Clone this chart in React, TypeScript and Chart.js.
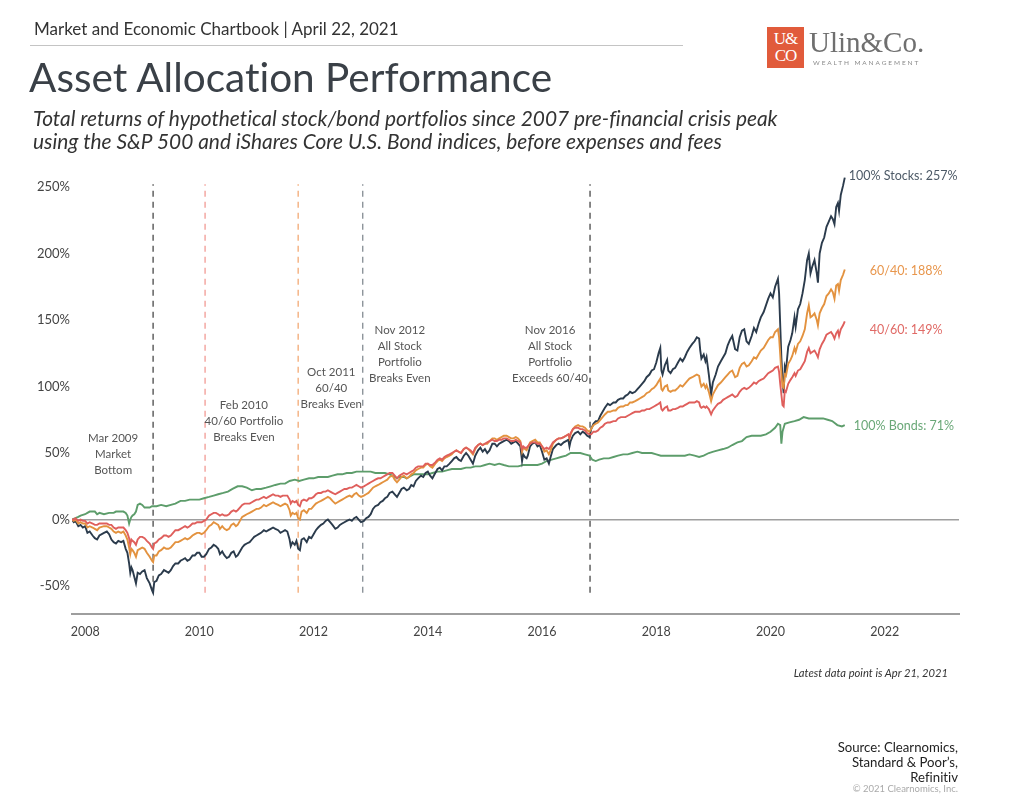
import React, { useEffect, useRef } from "react";
import { Chart, registerables } from "chart.js";

Chart.register(...registerables);

// ---------- DATA ----------
const dates = [
  2007.77, 2007.8, 2007.83, 2007.88, 2007.92, 2007.96,
  2008.0, 2008.04, 2008.08, 2008.13, 2008.17, 2008.21, 2008.25, 2008.33, 2008.38, 2008.42, 2008.46, 2008.5, 2008.54, 2008.58, 2008.63, 2008.67, 2008.71, 2008.74, 2008.77, 2008.79, 2008.81, 2008.83, 2008.86, 2008.89, 2008.92, 2008.96,
  2009.0, 2009.04, 2009.08, 2009.13, 2009.17, 2009.19, 2009.21, 2009.25, 2009.29, 2009.33, 2009.38, 2009.42, 2009.46, 2009.5, 2009.54, 2009.58, 2009.63, 2009.67, 2009.71, 2009.75, 2009.79, 2009.83, 2009.88, 2009.92, 2009.96,
  2010.0, 2010.04, 2010.08, 2010.12, 2010.17, 2010.21, 2010.25, 2010.29, 2010.33, 2010.36, 2010.4, 2010.44, 2010.48, 2010.52, 2010.56, 2010.6, 2010.64, 2010.67, 2010.71, 2010.75, 2010.79, 2010.83, 2010.88, 2010.92, 2010.96,
  2011.0, 2011.04, 2011.08, 2011.13, 2011.17, 2011.21, 2011.25, 2011.29, 2011.33, 2011.38, 2011.42, 2011.46, 2011.5, 2011.54, 2011.58, 2011.6, 2011.63, 2011.67, 2011.7, 2011.73, 2011.76, 2011.79, 2011.83, 2011.88, 2011.92, 2011.96,
  2012.0, 2012.04, 2012.08, 2012.13, 2012.17, 2012.21, 2012.25, 2012.29, 2012.33, 2012.38, 2012.42, 2012.46, 2012.5, 2012.54, 2012.58, 2012.63, 2012.67, 2012.71, 2012.75, 2012.79, 2012.83, 2012.88, 2012.92, 2012.96,
  2013.0, 2013.04, 2013.08, 2013.13, 2013.17, 2013.21, 2013.25, 2013.29, 2013.33, 2013.38, 2013.42, 2013.46, 2013.5, 2013.54, 2013.58, 2013.63, 2013.67, 2013.71, 2013.75, 2013.79, 2013.83, 2013.88, 2013.92, 2013.96,
  2014.0, 2014.04, 2014.08, 2014.13, 2014.17, 2014.21, 2014.25, 2014.29, 2014.33, 2014.38, 2014.42, 2014.46, 2014.5, 2014.54, 2014.58, 2014.63, 2014.67, 2014.71, 2014.75, 2014.79, 2014.83, 2014.88, 2014.92, 2014.96,
  2015.0, 2015.04, 2015.08, 2015.13, 2015.17, 2015.21, 2015.25, 2015.29, 2015.33, 2015.38, 2015.42, 2015.46, 2015.5, 2015.54, 2015.58, 2015.62, 2015.65, 2015.67, 2015.7, 2015.73, 2015.75, 2015.79, 2015.83, 2015.88, 2015.92, 2015.96,
  2016.0, 2016.04, 2016.08, 2016.12, 2016.15, 2016.19, 2016.25, 2016.29, 2016.33, 2016.38, 2016.42, 2016.46, 2016.48, 2016.5, 2016.54, 2016.58, 2016.63, 2016.67, 2016.71, 2016.75, 2016.79, 2016.83, 2016.86, 2016.9, 2016.94, 2016.98,
  2017.02, 2017.06, 2017.1, 2017.15, 2017.19, 2017.25, 2017.29, 2017.33, 2017.38, 2017.42, 2017.46, 2017.5, 2017.54, 2017.58, 2017.63, 2017.67, 2017.71, 2017.75, 2017.79, 2017.83, 2017.88, 2017.92, 2017.96,
  2018.0, 2018.04, 2018.07, 2018.09, 2018.11, 2018.15, 2018.19, 2018.21, 2018.25, 2018.29, 2018.33, 2018.38, 2018.42, 2018.46, 2018.5, 2018.54, 2018.58, 2018.63, 2018.67, 2018.71, 2018.75, 2018.77, 2018.79, 2018.83, 2018.86, 2018.88, 2018.92, 2018.96, 2018.99,
  2019.04, 2019.08, 2019.13, 2019.17, 2019.21, 2019.25, 2019.29, 2019.33, 2019.38, 2019.42, 2019.46, 2019.5, 2019.54, 2019.58, 2019.62, 2019.67, 2019.71, 2019.75, 2019.79, 2019.83, 2019.88, 2019.92, 2019.96,
  2020.0, 2020.04, 2020.08, 2020.13, 2020.15, 2020.17, 2020.19, 2020.21, 2020.23, 2020.25, 2020.27, 2020.31, 2020.35, 2020.38, 2020.42, 2020.44, 2020.48, 2020.52, 2020.56, 2020.6, 2020.64, 2020.67, 2020.7, 2020.73, 2020.77, 2020.81, 2020.83, 2020.86, 2020.9, 2020.94, 2020.98,
  2021.02, 2021.06, 2021.09, 2021.12, 2021.15, 2021.18, 2021.2, 2021.23, 2021.27, 2021.3,
];

const stocks = [
  0, -2, -1, -5, -4, -6,
  -5, -10, -9, -12, -14, -15, -12, -10, -9, -11, -15, -17, -18, -16, -17, -16, -22, -25, -33, -40, -36, -38, -43, -48, -40, -41,
  -39, -38, -44, -48, -53, -55, -47, -46, -42, -41, -38, -39, -40, -38, -35, -33, -33, -31, -30, -29, -31, -30, -27, -27, -25,
  -25, -28, -28, -26, -22, -21, -19, -20, -22, -26, -24, -27, -29, -28, -25, -24, -28, -27, -24, -21, -19, -18, -17, -15, -13,
  -12, -11, -10, -8, -9, -8, -7, -6, -7, -8, -10, -9, -8, -9, -15, -20, -17, -19, -16, -22, -23, -15, -14, -17, -13, -14,
  -11, -8, -6, -4, -3, -1, 0, -2, -4, -7, -6, -4, -3, -2, -1, 0, -1, 1, 2, 0, -2, -1, 1, 2,
  4, 8, 10, 11, 13, 14, 16, 17, 20, 21, 19, 17, 20, 23, 24, 22, 23, 26, 25, 29, 31, 33, 32, 35,
  36, 33, 31, 35, 38, 39, 37, 40, 40, 42, 44, 46, 47, 45, 44, 48, 50, 48, 45, 42, 48, 52, 54, 51,
  53, 50, 52, 57, 57, 55, 57, 58, 59, 60, 59, 57, 58, 59, 57, 55, 44, 49, 47, 46, 48, 55, 57, 58, 55, 56,
  51, 45, 46, 42, 47, 53, 56, 57, 56, 58, 59, 60, 55, 59, 63, 65, 66, 64, 66, 65, 63, 62, 68, 72, 74, 74,
  78, 81, 84, 87, 86, 88, 88, 90, 91, 91, 93, 94, 96, 95, 96, 98, 100, 102, 104, 107, 109, 112, 113,
  118, 125, 129, 112, 109, 116, 120, 112, 110, 113, 114, 118, 121, 119, 122, 126, 129, 132, 134, 137, 136, 127, 121, 124, 119, 122, 109, 94, 103,
  109, 115, 119, 122, 125, 131, 135, 138, 128, 127, 137, 142, 143, 134, 132, 138, 144, 141, 147, 152, 156, 161, 166,
  170, 167, 175, 181, 170, 146, 122, 105, 95, 115, 112, 130, 135, 140, 152, 145, 158, 162, 170, 180, 195, 200, 185, 190, 195, 185, 178, 200, 208, 212, 220,
  224, 228, 226, 222, 235, 238, 232, 244, 251, 257,
];

const sixtyForty = [
  0, -1, 0, -3, -2, -3,
  -3, -6, -5, -6, -7, -8, -6, -5, -5, -6, -7, -9, -10, -9, -10, -9, -12, -15, -21, -26, -22, -23, -25, -28, -23, -22,
  -21, -22, -25, -28, -31, -32, -27, -27, -24, -23, -21, -22, -22, -21, -19, -17, -17, -16, -15, -14, -15, -14, -12, -11, -10,
  -10, -11, -10, -8, -5, -4, -2, -3, -4, -7, -5, -7, -8, -7, -4, -3, -5, -4, -1, 2, 3, 4, 5, 6, 7,
  8, 8, 9, 11, 10, 11, 12, 13, 12, 11, 10, 11, 12, 11, 7, 3, 5, 4, 5, 1, 0, 6, 7, 5, 8, 8,
  10, 12, 13, 14, 15, 16, 17, 16, 14, 12, 13, 14, 15, 16, 17, 18, 17, 19, 20, 18, 17, 18, 19, 20,
  22, 24, 25, 26, 27, 28, 29, 30, 32, 33, 30, 28, 30, 32, 33, 31, 32, 34, 35, 37, 38, 39, 39, 41,
  42, 40, 39, 42, 44, 45, 44, 46, 47, 48, 49, 51, 52, 51, 50, 53, 54, 53, 51, 49, 53, 56, 57, 56,
  57, 57, 59, 61, 61, 60, 61, 62, 63, 63, 62, 61, 61, 62, 61, 59, 51, 54, 53, 52, 54, 58, 59, 60, 58, 58,
  55, 51, 52, 49, 52, 57, 60, 61, 61, 62, 63, 64, 61, 64, 68, 70, 71, 70, 70, 69, 67, 66, 68, 71, 72, 73,
  75, 77, 79, 81, 81, 82, 82, 84, 85, 85, 86, 86, 88, 88, 89, 90, 91, 92, 93, 95, 96, 98, 99,
  101, 104, 106, 98, 97, 100, 101, 97, 96, 97, 97, 99, 101, 100, 102, 104, 106, 107, 108, 109, 108, 103, 100, 102, 99, 101, 96, 89, 94,
  98, 101, 103, 105, 107, 109, 111, 112, 107, 108, 114, 117, 118, 115, 116, 119, 122, 121, 124, 127, 129, 132, 135,
  137, 137, 141, 143, 137, 124, 110, 100, 99, 109, 108, 117, 120, 123, 129, 126, 132, 134, 138, 143, 155, 161, 152, 153, 155, 150, 146, 155, 159, 162, 168,
  170, 173, 171, 166, 176, 177, 172, 180, 184, 188,
];

const fortySixty = [
  0, 0, 1, -1, 0, -1,
  -1, -3, -2, -3, -4, -4, -3, -3, -3, -4, -4, -6, -7, -6, -6, -6, -8, -10, -14, -19, -15, -16, -17, -19, -15, -13,
  -13, -14, -16, -18, -21, -22, -18, -17, -15, -14, -12, -12, -13, -12, -10, -8, -8, -7, -6, -5, -6, -5, -3, -3, -2,
  -2, -2, -1, 0, 3, 4, 5, 5, 4, 3, 4, 3, 3, 4, 6, 7, 6, 7, 9, 11, 12, 12, 12, 13, 14,
  15, 15, 16, 17, 16, 17, 18, 19, 18, 18, 17, 18, 18, 18, 15, 12, 14, 13, 14, 11, 10, 14, 15, 14, 16, 16,
  17, 19, 20, 20, 21, 21, 22, 21, 20, 19, 20, 21, 22, 23, 23, 24, 24, 25, 26, 25, 24, 25, 26, 27,
  28, 29, 30, 31, 31, 32, 33, 34, 35, 35, 33, 31, 33, 34, 35, 34, 35, 36, 37, 39, 40, 40, 40, 42,
  42, 41, 41, 43, 45, 46, 45, 47, 48, 49, 50, 51, 52, 51, 50, 53, 54, 53, 52, 50, 54, 56, 57, 56,
  57, 58, 59, 60, 59, 59, 60, 60, 61, 61, 60, 59, 59, 60, 59, 58, 53, 55, 54, 54, 55, 57, 58, 58, 57, 57,
  55, 53, 54, 53, 55, 58, 60, 61, 61, 62, 63, 64, 62, 65, 68, 69, 69, 68, 68, 67, 65, 64, 64, 66, 66, 67,
  69, 70, 72, 73, 73, 74, 74, 76, 77, 77, 77, 78, 79, 80, 81, 81, 81, 82, 82, 83, 83, 84, 85,
  86, 87, 88, 83, 82, 84, 85, 82, 82, 83, 83, 84, 85, 85, 86, 87, 88, 88, 88, 89, 88, 85, 84, 85, 84, 85, 83, 79, 82,
  85, 87, 88, 90, 91, 92, 93, 94, 92, 93, 96, 98, 99, 98, 99, 101, 103, 102, 104, 105, 106, 108, 110,
  111, 112, 114, 115, 111, 102, 94, 86, 85, 97, 96, 102, 105, 107, 110, 108, 112, 113, 116, 119, 126, 129, 125, 126, 127, 124, 122, 128, 132, 135, 139,
  140, 141, 139, 136, 140, 142, 138, 143, 146, 149,
];

const bonds: [number, number][] = [
  [2007.77, 0], [2007.83, 1], [2007.88, 2], [2007.92, 3],
  [2008.0, 4], [2008.04, 5], [2008.08, 6], [2008.17, 6], [2008.21, 4], [2008.25, 5], [2008.33, 4], [2008.42, 5], [2008.5, 5], [2008.54, 6], [2008.58, 6], [2008.67, 6], [2008.71, 5], [2008.74, 3], [2008.77, -3], [2008.79, 0], [2008.81, 2], [2008.83, 3], [2008.86, 4], [2008.89, 6], [2008.92, 11], [2008.96, 12],
  [2009.0, 11], [2009.04, 9], [2009.08, 9], [2009.13, 9], [2009.17, 10], [2009.25, 10], [2009.33, 11], [2009.42, 10], [2009.5, 11], [2009.58, 12], [2009.67, 14], [2009.75, 14], [2009.83, 15], [2009.92, 15],
  [2010.0, 15], [2010.08, 16], [2010.17, 17], [2010.25, 18], [2010.33, 19], [2010.42, 20], [2010.5, 21], [2010.58, 23], [2010.67, 25], [2010.75, 25], [2010.83, 24], [2010.92, 22],
  [2011.0, 23], [2011.08, 23], [2011.17, 24], [2011.25, 25], [2011.33, 26], [2011.42, 27], [2011.5, 27], [2011.58, 29], [2011.67, 30], [2011.75, 29], [2011.83, 30], [2011.92, 31],
  [2012.0, 31], [2012.08, 32], [2012.17, 32], [2012.25, 32], [2012.33, 33], [2012.42, 34], [2012.5, 34], [2012.58, 35], [2012.67, 35], [2012.75, 36], [2012.83, 36], [2012.92, 36],
  [2013.0, 36], [2013.08, 35], [2013.17, 35], [2013.25, 35], [2013.33, 34], [2013.38, 33], [2013.42, 32], [2013.46, 31], [2013.5, 32], [2013.58, 32], [2013.63, 31], [2013.67, 32], [2013.71, 33], [2013.75, 34], [2013.83, 34], [2013.92, 34],
  [2014.0, 34], [2014.08, 35], [2014.17, 36], [2014.25, 36], [2014.33, 37], [2014.42, 38], [2014.5, 38], [2014.58, 38], [2014.67, 39], [2014.75, 39], [2014.83, 40], [2014.92, 40],
  [2015.0, 41], [2015.08, 42], [2015.17, 41], [2015.25, 42], [2015.33, 41], [2015.42, 40], [2015.5, 40], [2015.58, 40], [2015.67, 41], [2015.75, 41], [2015.83, 41], [2015.92, 41],
  [2016.0, 42], [2016.08, 44], [2016.17, 45], [2016.25, 46], [2016.33, 47], [2016.42, 48], [2016.5, 50], [2016.58, 50], [2016.67, 50], [2016.75, 49], [2016.83, 48], [2016.88, 45], [2016.94, 44],
  [2017.0, 45], [2017.08, 46], [2017.17, 46], [2017.25, 47], [2017.33, 48], [2017.42, 49], [2017.5, 49], [2017.58, 50], [2017.67, 51], [2017.75, 50], [2017.83, 50], [2017.92, 50],
  [2018.0, 49], [2018.08, 48], [2018.17, 48], [2018.25, 48], [2018.33, 48], [2018.42, 48], [2018.5, 48], [2018.58, 49], [2018.67, 48], [2018.75, 47], [2018.83, 48], [2018.92, 50],
  [2019.0, 51], [2019.08, 52], [2019.17, 53], [2019.25, 54], [2019.33, 56], [2019.42, 58], [2019.5, 59], [2019.58, 62], [2019.67, 63], [2019.75, 63], [2019.83, 63], [2019.92, 64],
  [2020.0, 66], [2020.08, 69], [2020.13, 72], [2020.17, 71], [2020.19, 57], [2020.21, 66], [2020.25, 72], [2020.33, 73], [2020.42, 74], [2020.5, 75], [2020.58, 77], [2020.67, 76], [2020.75, 76], [2020.83, 76], [2020.92, 76],
  [2021.0, 75], [2021.08, 74], [2021.17, 71], [2021.25, 70], [2021.3, 71],
];

const seriesNames = ["100% Stocks", "60/40", "40/60", "100% Bonds"];

const eventDates = [2009.19, 2010.1, 2011.73, 2012.86, 2016.84];
const eventLabels = [
  ["Mar 2009", "Market", "Bottom"],
  ["Feb 2010", "40/60 Portfolio", "Breaks Even"],
  ["Oct 2011", "60/40", "Breaks Even"],
  ["Nov 2012", "All Stock", "Portfolio", "Breaks Even"],
  ["Nov 2016", "All Stock", "Portfolio", "Exceeds 60/40"],
];

const xTicks = [2008, 2010, 2012, 2014, 2016, 2018, 2020, 2022];
const yTicks = [-50, 0, 50, 100, 150, 200, 250];

// ---------- STYLES / LAYOUT ----------
const FONT = "Lato, 'Source Sans Pro', 'Open Sans', sans-serif";
const seriesColors = ["#2b3b4c", "#e3923f", "#df5f5c", "#5d9d6b"];
const labelColors = ["#4d5a67", "#e8964c", "#e06a66", "#6aa878"];
const eventColors = ["#555555", "#f3a29c", "#f4b07f", "#8d949a", "#555555"];
// annotation text anchors (data coords of first line centre)
const eventTextPos = [
  { x: 2008.49, y: 61 },
  { x: 2010.78, y: 86 },
  { x: 2012.31, y: 111 },
  { x: 2013.51, y: 142 },
  { x: 2016.14, y: 142 },
];
// end label pixel offsets from last point
const endLabelOffsets = [
  { dx: 4, dy: -2 },
  { dx: 25, dy: 2 },
  { dx: 25, dy: 9 },
  { dx: 9, dy: 1 },
];

const overlayPlugin = {
  id: "overlayText",
  afterDatasetsDraw(chart: any) {
    const { ctx } = chart;
    const xs = chart.scales.x;
    const ys = chart.scales.y;
    ctx.save();
    ctx.font = `11.5px ${FONT}`;
    ctx.fillStyle = "#555";
    ctx.textAlign = "center";
    ctx.textBaseline = "middle";
    eventLabels.forEach((lines, i) => {
      const px = xs.getPixelForValue(eventTextPos[i].x);
      const py = ys.getPixelForValue(eventTextPos[i].y);
      lines.forEach((line, j) => ctx.fillText(line, px, py + j * 16));
    });
    ctx.font = `12.5px ${FONT}`;
    ctx.textAlign = "left";
    const lastVals = [
      { x: dates[dates.length - 1], y: stocks[stocks.length - 1] },
      { x: dates[dates.length - 1], y: sixtyForty[sixtyForty.length - 1] },
      { x: dates[dates.length - 1], y: fortySixty[fortySixty.length - 1] },
      { x: bonds[bonds.length - 1][0], y: bonds[bonds.length - 1][1] },
    ];
    lastVals.forEach((p, i) => {
      const px = xs.getPixelForValue(p.x) + endLabelOffsets[i].dx;
      const py = ys.getPixelForValue(p.y) + endLabelOffsets[i].dy;
      ctx.fillStyle = labelColors[i];
      ctx.fillText(`${seriesNames[i]}: ${p.y}%`, px, py);
    });
    ctx.restore();
  },
};

function ChartCanvas() {
  const ref = useRef<HTMLCanvasElement | null>(null);
  useEffect(() => {
    if (!ref.current) return;
    const line = (label: string, data: any[], color: string, order: number) => ({
      label,
      data,
      borderColor: color,
      backgroundColor: color,
      borderWidth: 1.9,
      pointRadius: 0,
      tension: 0,
      fill: false,
      order,
    });
    const eventSets = eventDates.map((d, i) => ({
      label: `event${i}`,
      data: [
        { x: d, y: -55 },
        { x: d, y: 252 },
      ],
      borderColor: eventColors[i],
      borderWidth: 1.4,
      borderDash: [6, 5],
      pointRadius: 0,
      fill: false,
      order: 10,
    }));
    const chart = new Chart(ref.current, {
      type: "line",
      data: {
        datasets: [
          ...eventSets,
          line(seriesNames[3], bonds.map(([x, y]) => ({ x, y })), seriesColors[3], 4),
          line(seriesNames[0], dates.map((x, i) => ({ x, y: stocks[i] })), seriesColors[0], 3),
          line(seriesNames[1], dates.map((x, i) => ({ x, y: sixtyForty[i] })), seriesColors[1], 2),
          line(seriesNames[2], dates.map((x, i) => ({ x, y: fortySixty[i] })), seriesColors[2], 1),
        ] as any,
      },
      options: {
        animation: false,
        responsive: false,
        maintainAspectRatio: false,
        layout: { padding: { left: 0, right: 65, top: 171, bottom: 161 } },
        plugins: { legend: { display: false }, tooltip: { enabled: false } },
        events: [],
        scales: {
          x: {
            type: "linear",
            min: 2007.77,
            max: 2023.3,
            afterBuildTicks: (scale: any) => {
              scale.ticks = xTicks.map((v) => ({ value: v }));
            },
            afterFit: (scale: any) => {
              scale.height = 30;
            },
            grid: { display: false, drawTicks: false },
            border: { display: true, color: "#9e9e9e", width: 2 },
            ticks: {
              autoSkip: false,
              maxRotation: 0,
              padding: 10,
              color: "#444",
              font: { family: FONT, size: 12.5 },
              callback: (v: any) => String(v),
            },
          },
          y: {
            type: "linear",
            min: -71,
            max: 262,
            afterBuildTicks: (scale: any) => {
              scale.ticks = yTicks.map((v) => ({ value: v }));
            },
            afterFit: (scale: any) => {
              scale.width = 72;
            },
            border: { display: false },
            grid: {
              drawTicks: false,
              lineWidth: 1.6,
              color: (c: any) => (c.tick && c.tick.value === 0 ? "#9e9e9e" : "rgba(0,0,0,0)"),
            },
            ticks: {
              padding: 2,
              color: "#444",
              font: { family: FONT, size: 13 },
              callback: (v: any) => `${v}%`,
            },
          },
        },
      },
      plugins: [overlayPlugin],
    } as any);
    return () => chart.destroy();
  }, []);
  return (
    <canvas
      ref={ref}
      width={1024}
      height={805}
      style={{ position: "absolute", left: 0, top: 0, width: 1024, height: 805 }}
    />
  );
}

export default function App() {
  const abs = (s: React.CSSProperties): React.CSSProperties => ({ position: "absolute", ...s });
  return (
    <div
      style={{
        position: "fixed",
        left: 0,
        top: 0,
        width: 1024,
        height: 805,
        background: "#fff",
        fontFamily: FONT,
        overflow: "hidden",
        fontVariantLigatures: "none",
      }}
    >
      <ChartCanvas />
      <div style={abs({ left: 34, top: 19, fontSize: 17, color: "#333", whiteSpace: "nowrap", lineHeight: "20px" })}>
        Market and Economic Chartbook | April 22, 2021
      </div>
      <div style={abs({ left: 30, top: 45, width: 653, height: 1, background: "#c4c4c4" })} />
      <div
        style={abs({
          left: 29,
          top: 54,
          fontSize: 40.5,
          fontWeight: 400,
          color: "#3a4047",
          whiteSpace: "nowrap",
          lineHeight: "46px",
        })}
      >
        Asset Allocation Performance
      </div>
      <div
        style={abs({
          left: 33,
          top: 106,
          fontSize: 20.9,
          fontStyle: "italic",
          color: "#333",
          lineHeight: "23px",
          whiteSpace: "nowrap",
        })}
      >
        Total returns of hypothetical stock/bond portfolios since 2007 pre-financial crisis peak
        <br />
        using the S&amp;P 500 and iShares Core U.S. Bond indices, before expenses and fees
      </div>
      {/* logo */}
      <div
        style={abs({
          left: 767,
          top: 27,
          width: 37,
          height: 41,
          background: "#e15b3b",
          color: "#fff",
          fontFamily: "'Liberation Serif', serif",
          fontSize: 17,
          lineHeight: "17px",
          textAlign: "center",
          paddingTop: 3,
          boxSizing: "border-box",
          letterSpacing: -1,
        })}
      >
        U&amp;
        <br />
        CO
      </div>
      <div
        style={abs({
          left: 809,
          top: 26,
          fontFamily: "'Liberation Serif', serif",
          fontSize: 29,
          color: "#6f6f6f",
          lineHeight: "32px",
          whiteSpace: "nowrap",
        })}
      >
        Ulin&amp;Co.
      </div>
      <div
        style={abs({
          left: 813,
          top: 59,
          fontSize: 6.5,
          letterSpacing: 1.9,
          color: "#8a8a8a",
          whiteSpace: "nowrap",
          lineHeight: "8px",
        })}
      >
        WEALTH MANAGEMENT
      </div>
      {/* footer */}
      <div
        style={abs({
          right: 76,
          top: 666,
          fontSize: 11.2,
          fontStyle: "italic",
          color: "#333",
          whiteSpace: "nowrap",
          lineHeight: "14px",
        })}
      >
        Latest data point is Apr 21, 2021
      </div>
      <div
        style={abs({
          right: 66,
          top: 740,
          fontSize: 13.2,
          color: "#222",
          textAlign: "right",
          lineHeight: "15px",
          whiteSpace: "nowrap",
        })}
      >
        Source: Clearnomics,
        <br />
        Standard &amp; Poor’s,
        <br />
        Refinitiv
      </div>
      <div
        style={abs({
          right: 66,
          top: 783,
          fontSize: 9.5,
          color: "#aaa",
          whiteSpace: "nowrap",
          lineHeight: "11px",
        })}
      >
        © 2021 Clearnomics, Inc.
      </div>
    </div>
  );
}
